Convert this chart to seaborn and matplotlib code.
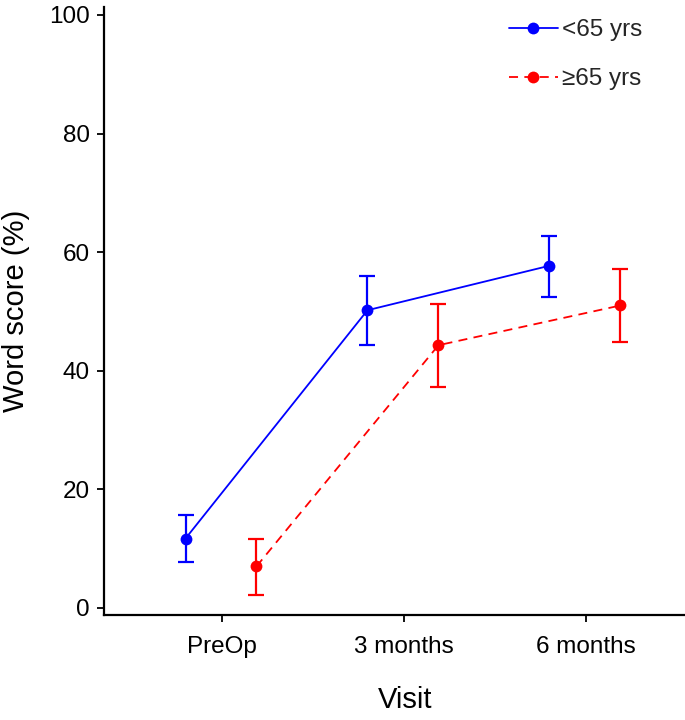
import numpy as np
import pandas as pd
import matplotlib
matplotlib.use("Agg")
import matplotlib.pyplot as plt
import seaborn as sns
from matplotlib.lines import Line2D

# ---- data ----
visits = ["PreOp", "3 months", "6 months"]
groups = ["<65 yrs", "\u226565 yrs"]
young_mean = [11.7, 50.2, 57.7]
young_lo = [7.8, 44.4, 52.5]
young_hi = [15.7, 55.9, 62.8]
old_mean = [7.0, 44.3, 51.0]
old_lo = [2.2, 37.3, 44.8]
old_hi = [11.7, 51.3, 57.2]

colors = ["#0000ff", "#ff0000"]
dodge = [-0.2, 0.19]

sns.set_theme(style="ticks")
plt.rcParams["font.family"] = ["Liberation Sans", "DejaVu Sans"]

rows = []
for g, means, los, his, off in zip(groups, [young_mean, old_mean],
                                   [young_lo, old_lo], [young_hi, old_hi], dodge):
    for i, (v, m, lo, hi) in enumerate(zip(visits, means, los, his)):
        rows.append({"group": g, "visit": v, "x": i + off, "score": m,
                     "lo": lo, "hi": hi})
df = pd.DataFrame(rows)

fig = plt.figure(figsize=(6.85, 7.2), dpi=100)
ax = fig.add_axes([0.1518, 0.1458, 1 - 0.1518, 0.990 - 0.1458])

sns.lineplot(data=df, x="x", y="score", hue="group", style="group",
             palette=colors, dashes=[(1, 0), (5, 3.5)], markers=["o", "o"],
             markersize=8.5, markeredgewidth=0, linewidth=1.3, sort=False,
             legend=False, ax=ax)

for g, c in zip(groups, colors):
    sub = df[df["group"] == g]
    ax.errorbar(sub["x"], sub["score"],
                yerr=[sub["score"] - sub["lo"], sub["hi"] - sub["score"]],
                fmt="none", ecolor=c, elinewidth=1.6, capsize=5.5,
                capthick=1.6, zorder=3)

ax.set_xlim(-0.648, 2.545)
ax.set_ylim(-1.2, 101.3)
ax.set_xticks(range(len(visits)))
ax.set_xticklabels(visits)
ax.set_yticks([0, 20, 40, 60, 80, 100])
ax.tick_params(axis="both", labelsize=17.5, length=5, width=1.3, color="black",
               labelcolor="black")
ax.tick_params(axis="x", pad=10)
ax.tick_params(axis="y", pad=5)
for s in ["top", "right"]:
    ax.spines[s].set_visible(False)
for s in ["left", "bottom"]:
    ax.spines[s].set_linewidth(1.6)
    ax.spines[s].set_color("black")

ax.set_xlabel("Visit", fontsize=21, color="black")
ax.set_ylabel("Word score (%)", fontsize=21, color="black")
ax.xaxis.set_label_coords(0.518, -0.116)
ax.yaxis.set_label_coords(-0.128, 0.5)

handles = [
    Line2D([], [], color=colors[0], linestyle="-", linewidth=1.3, marker="o",
           markersize=8.5, markeredgewidth=0),
    Line2D([], [], color=colors[1], linestyle=(0, (5, 3.5)), linewidth=1.3,
           marker="o", markersize=8.5, markeredgewidth=0),
]
fig.legend(handles, groups, loc="upper left", bbox_to_anchor=(0.743, 0.973),
           frameon=False, fontsize=17.5, handlelength=2.0, handletextpad=0.2,
           labelspacing=1.1, borderpad=0, borderaxespad=0)

fig.savefig("out.png", dpi=100)
